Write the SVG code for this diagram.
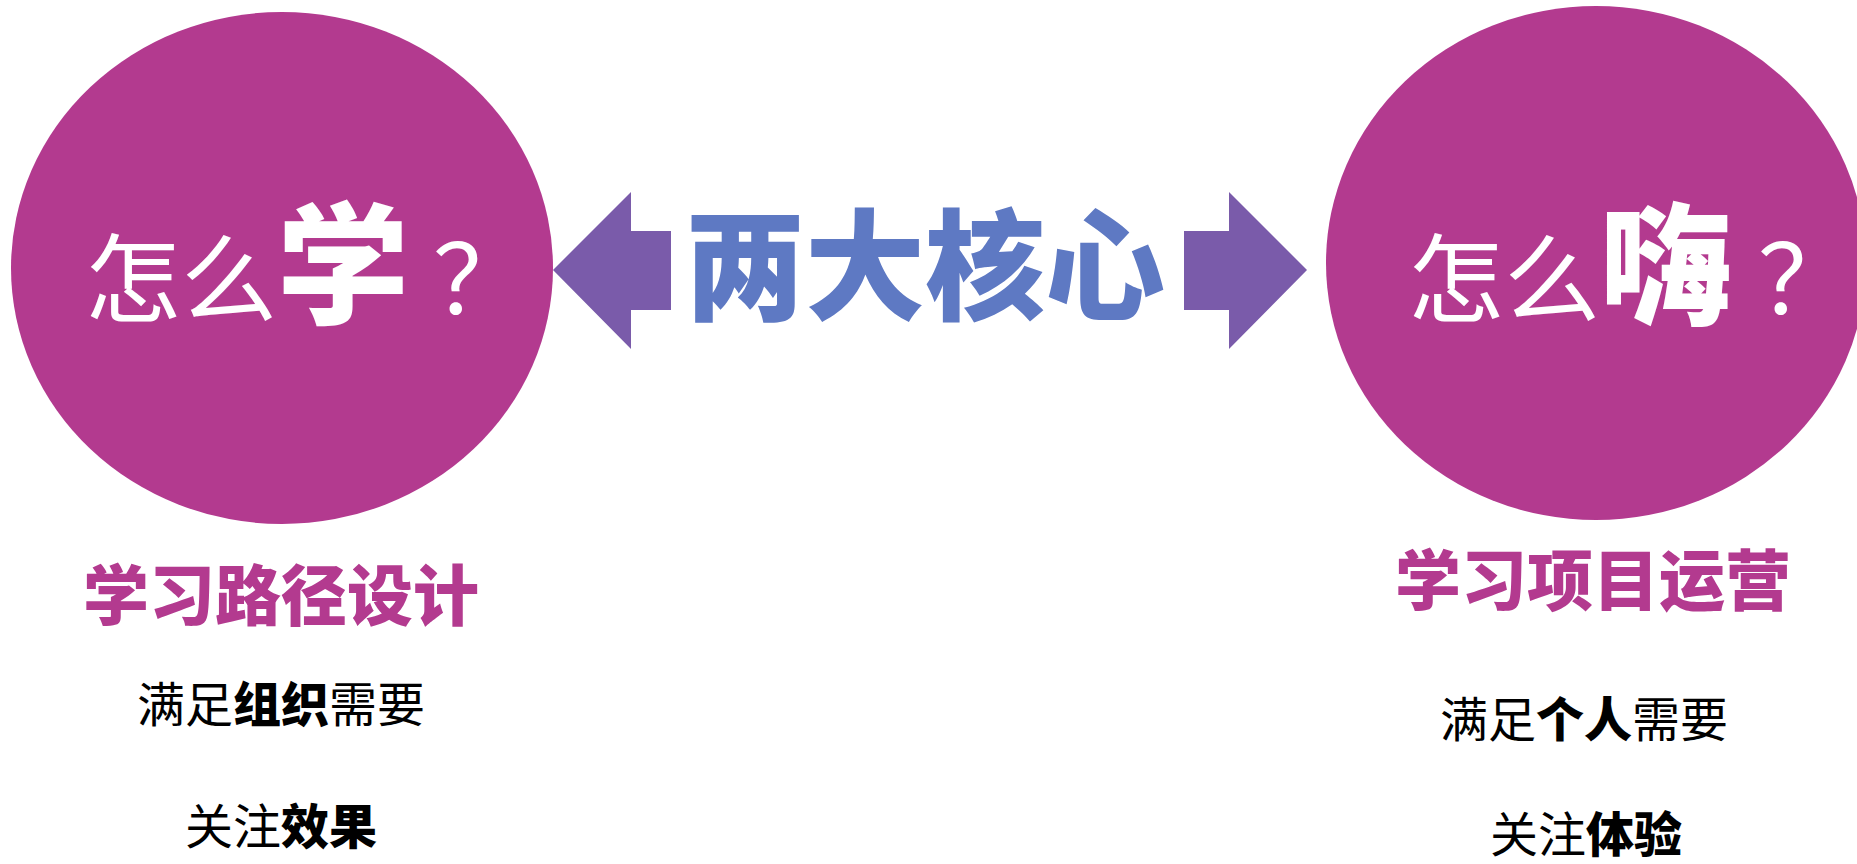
<svg xmlns="http://www.w3.org/2000/svg" width="1857" height="864" viewBox="0 0 1857 864">
  <style>
    .circle { fill: #B33A8F; }
    .arrow { fill: #7A5BAA; }
    text { font-family: "Noto Sans CJK SC", "Noto Sans", sans-serif; }
    .q { fill: #FFFFFF; font-size: 96px; }
    .big { font-weight: 900; font-size: 132px; }
    .core { fill: #5E79C3; font-weight: 900; font-size: 120px; }
    .title { fill: #B33A8F; font-weight: 900; font-size: 66px; }
    .sub { fill: #000000; font-size: 48px; }
    .b { font-weight: 900; }
  </style>
  <rect width="1857" height="864" fill="#FFFFFF"/>

  <g id="node-left">
    <ellipse class="circle" cx="282" cy="268" rx="271" ry="256"/>
    <text class="q" x="85" y="314">怎么<tspan class="big">学</tspan><tspan dx="24">？</tspan></text>
  </g>

  <g id="node-right">
    <ellipse class="circle" cx="1596" cy="263" rx="270" ry="257"/>
    <text class="q" x="1408" y="314">怎么<tspan class="big">嗨</tspan><tspan dx="26">？</tspan></text>
  </g>

  <g id="node-center">
    <text class="core" x="925" y="311" text-anchor="middle">两大核心</text>
  </g>

  <g id="connectors">
    <polygon class="arrow" points="553,270 631,192 631,231 671,231 671,310 631,310 631,349"/>
    <polygon class="arrow" points="1307,270 1229,192 1229,231 1184,231 1184,310 1229,310 1229,349"/>
  </g>

  <g id="label-left">
    <text class="title" x="281" y="620" text-anchor="middle">学习路径设计</text>
    <text class="sub" x="281" y="722" text-anchor="middle">满足<tspan class="b">组织</tspan>需要</text>
    <text class="sub" x="281" y="844" text-anchor="middle">关注<tspan class="b">效果</tspan></text>
  </g>

  <g id="label-right">
    <text class="title" x="1593" y="605" text-anchor="middle">学习项目运营</text>
    <text class="sub" x="1584" y="737" text-anchor="middle">满足<tspan class="b">个人</tspan>需要</text>
    <text class="sub" x="1586" y="852" text-anchor="middle">关注<tspan class="b">体验</tspan></text>
  </g>
</svg>
